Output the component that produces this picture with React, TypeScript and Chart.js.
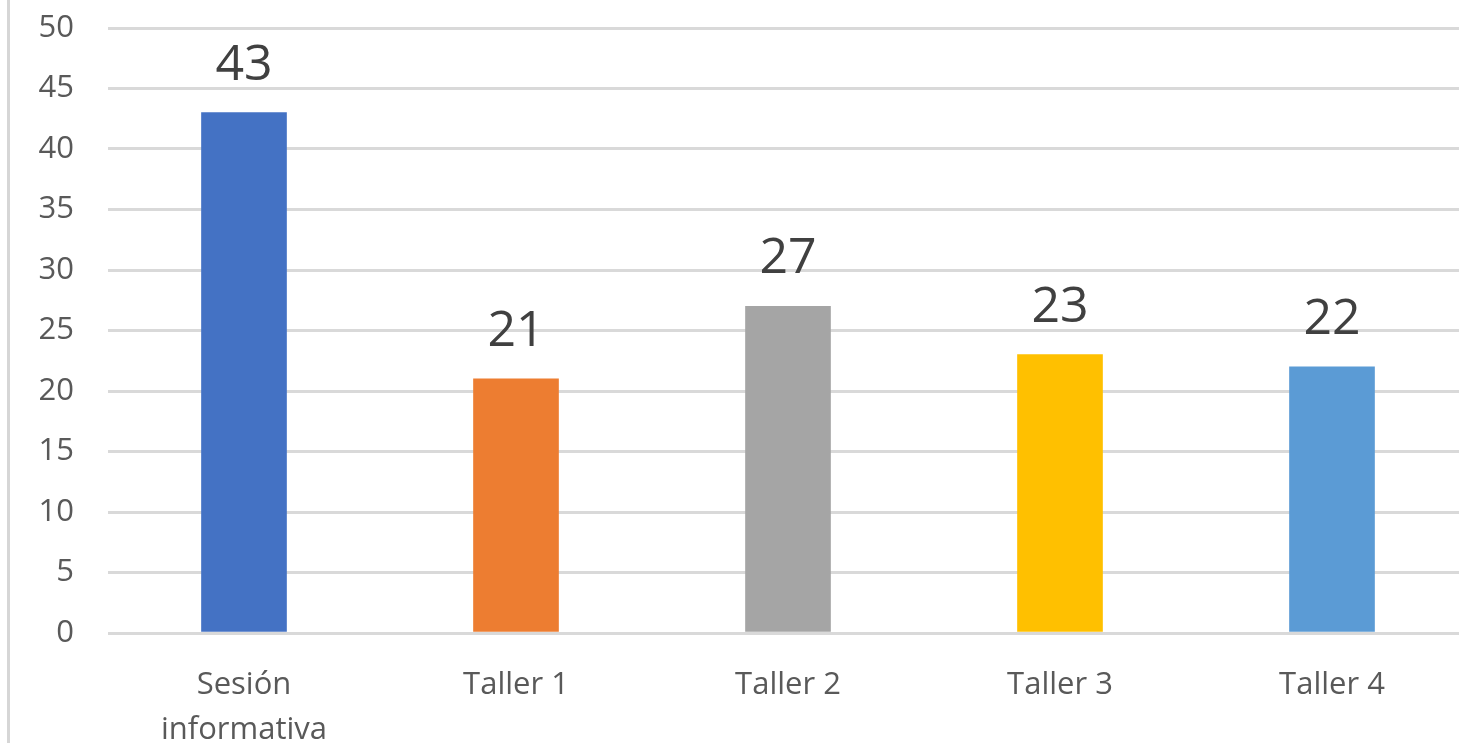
import React, { useEffect, useRef } from 'react';
import { Chart, registerables } from 'chart.js';

Chart.register(...registerables);

const categories: (string | string[])[] = [['Sesión', 'informativa'], 'Taller 1', 'Taller 2', 'Taller 3', 'Taller 4'];
const values = [43, 21, 27, 23, 22];
const barColors = ['#4472C4', '#ED7D31', '#A5A5A5', '#FFC000', '#5B9BD5'];
const yMin = 0;
const yMax = 50;
const yStep = 5;

const valueLabels = {
  id: 'valueLabels',
  afterDatasetsDraw(chart: any) {
    const ctx = chart.ctx;
    const meta = chart.getDatasetMeta(0);
    ctx.save();
    ctx.font = '50px "Open Sans"';
    ctx.fillStyle = '#404040';
    ctx.textAlign = 'center';
    ctx.textBaseline = 'alphabetic';
    meta.data.forEach((bar: any, i: number) => {
      ctx.fillText(String(values[i]), bar.x, bar.y - 33);
    });
    ctx.restore();
  },
};

export default function App() {
  const canvasRef = useRef<HTMLCanvasElement | null>(null);

  useEffect(() => {
    if (!canvasRef.current) return;
    const chart = new Chart(canvasRef.current, {
      type: 'bar',
      data: {
        labels: categories,
        datasets: [
          {
            data: values,
            backgroundColor: barColors,
            borderWidth: 0,
            barThickness: 85,
          },
        ],
      },
      options: {
        animation: false,
        responsive: true,
        maintainAspectRatio: false,
        layout: { padding: { top: 28, left: 0, right: 0, bottom: 0 } },
        plugins: {
          legend: { display: false },
          tooltip: { enabled: false },
        },
        scales: {
          x: {
            grid: { display: false },
            border: { display: false },
            ticks: {
              color: '#595959',
              font: { family: 'Open Sans', size: 31, lineHeight: 1.45 },
              padding: 22,
              maxRotation: 0,
              autoSkip: false,
            },
            afterFit(scale: any) {
              scale.height = 110;
            },
          },
          y: {
            min: yMin,
            max: yMax,
            grid: { color: '#d9d9d9', lineWidth: 3, drawTicks: false },
            border: { display: false },
            ticks: {
              stepSize: yStep,
              color: '#595959',
              font: { family: 'Open Sans', size: 31 },
              padding: 34,
            },
            afterFit(scale: any) {
              scale.width = 108;
              scale.paddingTop = 0;
              scale.paddingBottom = 0;
            },
          },
        },
      },
      plugins: [valueLabels],
    });
    return () => chart.destroy();
  }, []);

  return (
    <div
      style={{
        position: 'fixed',
        left: 0,
        top: 0,
        width: 1459,
        height: 743,
        overflow: 'hidden',
        background: '#ffffff',
      }}
    >
      <div
        style={{
          position: 'absolute',
          left: 7,
          top: 0,
          width: 3,
          height: 743,
          background: '#d6d6d6',
        }}
      />
      <div style={{ position: 'absolute', left: 0, top: 0, width: 1468, height: 743 }}>
        <canvas ref={canvasRef} />
      </div>
    </div>
  );
}
